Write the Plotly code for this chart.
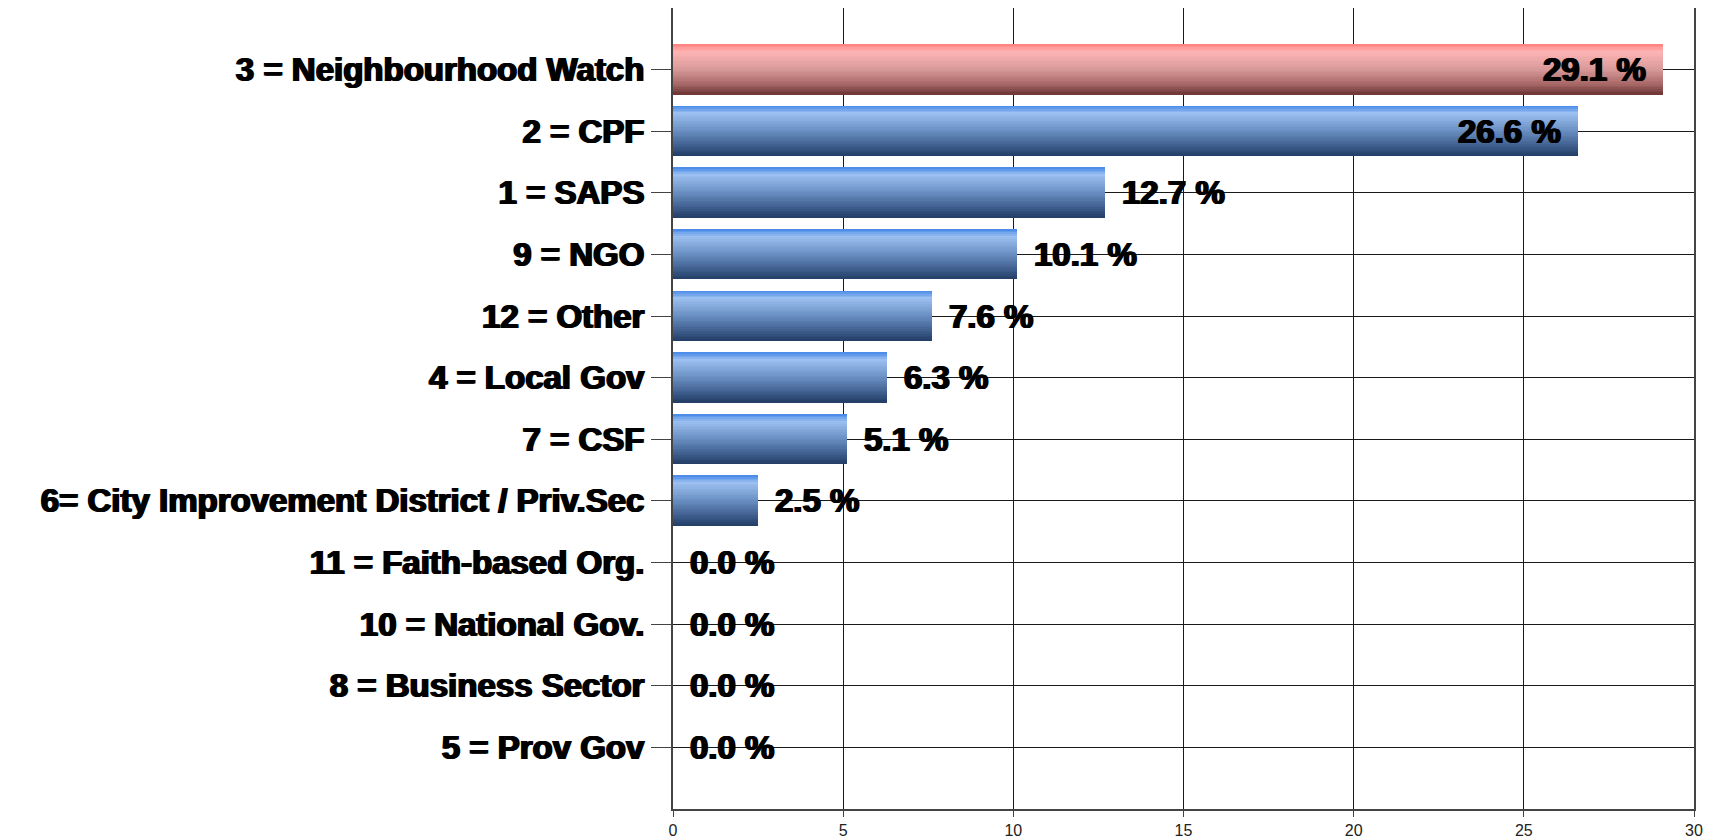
import plotly.graph_objects as go

# categories top -> bottom, as shown
categories = [
    "3 = Neighbourhood Watch",
    "2 = CPF",
    "1 = SAPS",
    "9 = NGO",
    "12 = Other",
    "4 = Local Gov",
    "7 = CSF",
    "6= City Improvement District / Priv.Sec",
    "11 = Faith-based Org.",
    "10 = National Gov.",
    "8 = Business Sector",
    "5 = Prov Gov",
]
values = [29.1, 26.6, 12.7, 10.1, 7.6, 6.3, 5.1, 2.5, 0.0, 0.0, 0.0, 0.0]
highlight = "3 = Neighbourhood Watch"
x_ticks = [0, 5, 10, 15, 20, 25, 30]

# vertical gradient stops (fraction from top of bar, rgb)
blue_stops = [(0.0, (67, 135, 232)), (0.15, (156, 192, 240)), (0.5, (106, 143, 194)),
              (0.8, (63, 95, 142)), (1.0, (35, 61, 102))]
red_stops = [(0.0, (255, 127, 127)), (0.15, (255, 180, 180)), (0.5, (217, 154, 154)),
             (0.8, (168, 104, 104)), (1.0, (110, 53, 53))]


def grad(stops, t):
    for (t0, c0), (t1, c1) in zip(stops, stops[1:]):
        if t <= t1:
            f = (t - t0) / (t1 - t0)
            return "rgb(%d,%d,%d)" % tuple(round(a + (b - a) * f) for a, b in zip(c0, c1))
    return "rgb(%d,%d,%d)" % stops[-1][1]


BAR_W = 0.81
N = 30
strip = BAR_W / N

fig = go.Figure()

# each bar drawn as thin horizontal strips to get the glossy gradient
for k in range(N):
    t = (k + 0.5) / N
    colors = [grad(red_stops if c == highlight else blue_stops, t) for c in categories]
    fig.add_trace(go.Bar(
        x=values, y=categories, orientation="h",
        width=strip * 1.02, offset=-BAR_W / 2 + k * strip,
        marker=dict(color=colors, line=dict(width=0)),
        hoverinfo="skip", showlegend=False,
    ))

bold_font = dict(family="Liberation Sans, Arial, sans-serif", size=33, color="black",
                 weight="bold", shadow="1px 0px 0px #000, -1px 0px 0px #000")

for c, v in zip(categories, values):
    inside = v > 25
    fig.add_annotation(
        x=v, y=c, text=f"{v:.1f} %", showarrow=False,
        xanchor="right" if inside else "left",
        xshift=-15 if inside else 15,
        font=bold_font,
    )

# page body has an 8px margin, so the figure is 8px smaller than the window
fig.update_layout(
    width=1711, height=831,
    margin=dict(l=665, r=25, t=0, b=30, autoexpand=False),
    paper_bgcolor="white", plot_bgcolor="white",
    barmode="overlay", bargap=0,
    showlegend=False,
)

fig.update_xaxes(
    range=[0, 30], tickvals=x_ticks, automargin=False,
    showgrid=True, gridcolor="#1a1a1a", gridwidth=1,
    zeroline=False,
    showline=True, linecolor="#444", linewidth=2, mirror=True,
    ticks="outside", ticklen=6, tickcolor="#444",
    tickfont=dict(family="Liberation Sans Narrow, Arial Narrow, sans-serif", size=16, color="#222"),
)
fig.update_yaxes(
    type="category", categoryorder="array", categoryarray=categories,
    range=[12, -1], automargin=False,
    showgrid=True, gridcolor="#1a1a1a", gridwidth=1,
    showline=True, linecolor="#444", linewidth=2, mirror=True,
    ticks="outside", ticklen=20, tickcolor="#444",
    tickfont=bold_font,
)

fig.write_html("out.html")
